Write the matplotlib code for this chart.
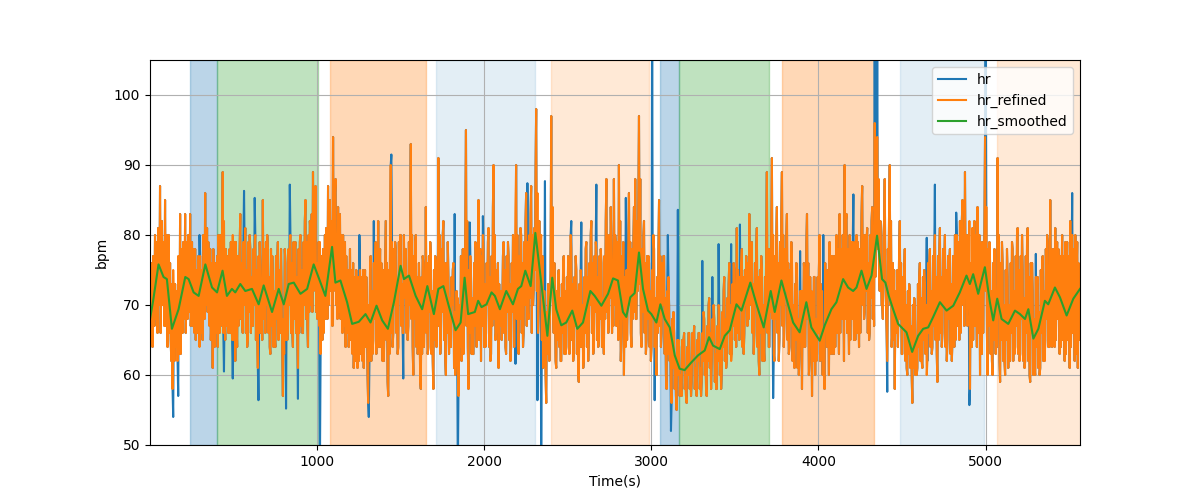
import numpy as np
import matplotlib
matplotlib.use('Agg')
import matplotlib.pyplot as pl

# refined heart rate, one sample every 3.75 s starting at t=2 s.
# Each 15 s block holds four samples: a (t), c (t+3.75), b (t+7.5), d (t+11.25)
refined_t0 = 2
refined_step = 3.75
hr_refined_a = [
    72, 64, 80, 66, 87, 70, 85, 64, 76, 58, 73, 62, 83, 66, 83, 68, 83, 67, 78, 66,
    77, 65, 86, 69, 78, 61, 76, 64, 80, 89, 65, 77, 66, 80, 62, 77, 83, 66, 81, 65,
    78, 67, 80, 61, 75, 85, 66, 78, 63, 74, 64, 79, 66, 57, 76, 67, 80, 64, 79, 61,
    80, 66, 85, 64, 80, 89, 87, 70, 63, 78, 68, 87, 72, 94, 88, 84, 68, 80, 64, 75,
    65, 76, 62, 74, 63, 75, 64, 56, 77, 65, 79, 82, 64, 75, 82, 57, 90, 66, 78, 64,
    80, 66, 78, 67, 93, 60, 80, 65, 58, 76, 84, 64, 77, 58, 76, 91, 65, 82, 60, 74,
    64, 76, 62, 57, 77, 63, 95, 58, 74, 63, 78, 85, 62, 78, 66, 81, 63, 90, 66, 61,
    72, 79, 63, 77, 64, 78, 90, 63, 80, 66, 86, 68, 87, 72, 98, 70, 80, 62, 56, 70,
    97, 66, 61, 75, 62, 77, 64, 72, 78, 63, 75, 59, 73, 62, 79, 66, 82, 64, 78, 65,
    76, 63, 88, 68, 78, 88, 67, 90, 66, 60, 75, 86, 64, 84, 68, 97, 64, 82, 65, 76,
    64, 78, 60, 85, 66, 77, 58, 70, 56, 66, 55, 64, 57, 66, 56, 66, 59, 67, 57, 66,
    59, 68, 57, 71, 62, 68, 58, 69, 60, 74, 62, 76, 63, 75, 81, 65, 78, 66, 70, 83,
    79, 66, 81, 60, 75, 62, 89, 64, 91, 62, 84, 65, 89, 68, 83, 64, 76, 61, 74, 63,
    58, 74, 83, 62, 57, 74, 63, 80, 72, 58, 64, 79, 63, 77, 66, 83, 68, 90, 66, 80,
    68, 79, 66, 78, 87, 69, 81, 66, 84, 96, 94, 72, 70, 88, 62, 90, 66, 58, 75, 82,
    63, 78, 60, 72, 56, 70, 61, 76, 61, 73, 62, 78, 64, 80, 59, 81, 66, 80, 65, 78,
    65, 80, 67, 82, 85, 89, 67, 58, 81, 67, 84, 60, 79, 94, 60, 76, 60, 72, 91, 59,
    76, 60, 74, 62, 78, 64, 81, 63, 75, 62, 81, 59, 72, 60, 74, 61, 77, 65, 79, 85,
    66, 81, 68, 77, 65, 79, 65, 82, 66, 80, 61, 74,
]
hr_refined_c = [
    65, 77, 68, 81, 66, 79, 67, 78, 65, 75, 64, 77, 63, 79, 66, 80, 67, 78, 65, 77,
    66, 80, 70, 79, 65, 78, 66, 80, 67, 66, 78, 66, 79, 65, 79, 67, 68, 79, 66, 79,
    66, 78, 65, 77, 66, 68, 79, 66, 78, 64, 77, 65, 78, 68, 65, 78, 66, 79, 66, 78,
    67, 79, 68, 80, 70, 72, 69, 79, 77, 66, 81, 70, 79, 72, 70, 69, 80, 67, 77, 64,
    75, 61, 75, 62, 74, 61, 74, 70, 62, 76, 63, 64, 76, 62, 65, 75, 66, 78, 66, 79,
    67, 80, 66, 79, 68, 77, 64, 76, 74, 64, 66, 77, 63, 75, 64, 67, 78, 65, 76, 63,
    74, 61, 72, 68, 62, 78, 67, 75, 63, 76, 64, 65, 77, 64, 76, 64, 77, 68, 75, 73,
    65, 66, 77, 65, 76, 64, 68, 77, 66, 79, 67, 80, 66, 81, 72, 82, 65, 72, 69, 62,
    72, 76, 72, 64, 73, 63, 74, 63, 65, 74, 63, 73, 64, 74, 64, 76, 66, 77, 65, 77,
    64, 77, 69, 80, 66, 70, 79, 68, 77, 74, 65, 70, 78, 69, 82, 73, 78, 66, 77, 64,
    75, 64, 74, 67, 76, 63, 72, 62, 68, 58, 65, 57, 65, 58, 64, 58, 66, 58, 65, 58,
    66, 60, 67, 61, 68, 59, 67, 60, 69, 62, 71, 63, 73, 65, 66, 74, 64, 75, 67, 70,
    66, 76, 64, 75, 62, 74, 66, 78, 68, 77, 66, 79, 67, 78, 65, 75, 62, 73, 61, 72,
    72, 64, 68, 74, 71, 60, 74, 62, 60, 76, 75, 63, 77, 64, 78, 66, 80, 68, 78, 65,
    79, 65, 79, 66, 70, 80, 66, 80, 68, 74, 78, 82, 68, 74, 78, 70, 76, 72, 64, 68,
    74, 62, 72, 61, 70, 60, 73, 62, 74, 63, 76, 64, 77, 65, 77, 66, 78, 64, 77, 63,
    77, 65, 79, 66, 70, 72, 80, 76, 65, 80, 66, 79, 66, 72, 78, 63, 76, 63, 70, 76,
    62, 75, 61, 76, 62, 77, 63, 77, 62, 77, 62, 76, 60, 74, 61, 75, 62, 78, 64, 66,
    78, 65, 78, 64, 77, 63, 77, 64, 78, 63, 76,
]
hr_refined_b = [
    68, 74, 71, 79, 73, 77, 71, 80, 62, 70, 66, 75, 70, 78, 71, 76, 70, 75, 69, 74,
    70, 79, 72, 76, 68, 74, 70, 78, 71, 82, 70, 75, 69, 77, 68, 74, 76, 70, 75, 69,
    74, 70, 75, 66, 73, 78, 70, 74, 67, 72, 68, 75, 70, 63, 72, 70, 76, 68, 74, 66,
    75, 70, 79, 69, 83, 80, 76, 67, 73, 72, 80, 76, 82, 78, 79, 73, 76, 70, 72, 68,
    70, 66, 70, 66, 71, 68, 70, 62, 72, 68, 74, 72, 70, 69, 76, 63, 79, 70, 73, 72,
    73, 71, 74, 70, 80, 68, 74, 69, 63, 72, 76, 69, 72, 65, 71, 80, 69, 76, 66, 71,
    70, 69, 64, 70, 68, 72, 82, 66, 71, 67, 73, 77, 67, 73, 70, 74, 67, 80, 69, 67,
    70, 75, 69, 73, 69, 74, 80, 68, 76, 70, 79, 71, 80, 75, 86, 74, 77, 66, 63, 68,
    84, 70, 65, 71, 66, 72, 68, 70, 73, 67, 72, 64, 70, 66, 74, 70, 76, 69, 74, 68,
    71, 68, 80, 71, 74, 80, 71, 82, 68, 67, 72, 79, 68, 88, 72, 88, 69, 76, 68, 72,
    68, 71, 66, 77, 70, 71, 63, 66, 61, 62, 60, 60, 61, 60, 60, 62, 63, 61, 62, 61,
    62, 64, 62, 66, 65, 63, 62, 65, 64, 68, 66, 70, 67, 71, 75, 70, 74, 70, 76, 77,
    73, 70, 74, 66, 70, 67, 78, 69, 80, 68, 76, 70, 80, 72, 76, 67, 70, 65, 68, 67,
    64, 70, 76, 67, 62, 68, 66, 73, 66, 68, 69, 74, 67, 73, 70, 78, 74, 82, 70, 76,
    73, 75, 70, 76, 80, 72, 76, 71, 79, 84, 88, 76, 80, 70, 73, 82, 65, 70, 70, 76,
    67, 70, 63, 67, 61, 65, 64, 71, 65, 70, 66, 72, 67, 74, 65, 74, 70, 75, 68, 73,
    70, 75, 71, 77, 79, 80, 72, 66, 76, 72, 77, 66, 75, 84, 67, 72, 65, 70, 80, 65,
    70, 65, 70, 66, 72, 67, 75, 68, 71, 66, 74, 66, 68, 64, 69, 66, 72, 68, 74, 78,
    71, 75, 72, 73, 70, 74, 70, 75, 72, 74, 67,
]
hr_refined_d = [
    76, 67, 79, 70, 82, 67, 80, 66, 73, 62, 72, 63, 78, 68, 79, 69, 79, 66, 75, 64,
    75, 68, 81, 67, 76, 64, 77, 66, 80, 70, 67, 78, 65, 79, 64, 78, 67, 77, 64, 80,
    68, 79, 66, 79, 65, 76, 80, 64, 77, 65, 76, 67, 63, 78, 65, 79, 66, 78, 65, 79,
    66, 82, 67, 82, 69, 78, 68, 79, 65, 80, 68, 85, 67, 86, 68, 83, 66, 79, 66, 78,
    63, 74, 61, 75, 62, 75, 60, 75, 63, 76, 64, 78, 62, 77, 59, 80, 64, 79, 63, 80,
    66, 78, 65, 82, 64, 79, 63, 59, 77, 67, 63, 79, 62, 77, 68, 63, 80, 62, 79, 66,
    75, 60, 71, 64, 78, 82, 64, 77, 63, 79, 66, 78, 80, 64, 79, 62, 84, 65, 76, 68,
    77, 64, 79, 62, 80, 84, 66, 81, 64, 82, 69, 83, 70, 89, 66, 78, 61, 60, 73, 75,
    69, 62, 74, 62, 76, 63, 77, 80, 62, 77, 60, 75, 61, 78, 62, 80, 63, 79, 64, 78,
    66, 82, 66, 84, 67, 79, 65, 62, 79, 64, 80, 66, 79, 68, 84, 66, 80, 63, 77, 62,
    80, 62, 78, 64, 77, 60, 74, 58, 69, 57, 65, 58, 65, 57, 66, 57, 65, 59, 66, 57,
    69, 58, 70, 58, 70, 58, 70, 58, 72, 61, 73, 62, 76, 64, 72, 76, 63, 77, 68, 74,
    63, 78, 62, 77, 64, 80, 64, 82, 63, 80, 62, 83, 64, 80, 63, 79, 64, 76, 60, 72,
    76, 79, 60, 72, 74, 62, 75, 66, 61, 74, 60, 77, 63, 80, 63, 78, 62, 83, 63, 79,
    65, 80, 64, 83, 68, 79, 65, 82, 67, 79, 74, 70, 82, 66, 84, 64, 75, 66, 78, 63,
    75, 61, 73, 60, 71, 60, 74, 62, 75, 60, 76, 63, 78, 63, 78, 64, 76, 62, 76, 62,
    64, 80, 65, 82, 67, 69, 82, 64, 82, 64, 80, 63, 81, 66, 79, 62, 78, 64, 62, 79,
    62, 78, 62, 79, 63, 80, 62, 80, 61, 79, 60, 76, 61, 73, 60, 76, 62, 80, 64, 64,
    64, 79, 63, 80, 62, 79, 61, 80, 62, 79, 65,
]

# raw hr differs from the refined one only at these outliers
spike_t = [139, 169, 298, 444, 498, 564, 627, 651, 817, 837, 887, 1020, 1255, 1311,
           1339, 1445, 1518, 1824, 1844, 1914, 1994, 2189, 2259, 2319, 2343, 2363,
           2522, 2582, 2672, 2847, 3006, 3020, 3100, 3120, 3160, 3306, 3365, 3405,
           3479, 3529, 3729, 3889, 4028, 4208, 4337, 4352, 4413, 4647, 4697, 4826,
           4902, 5000, 5300, 5519, 5535]
spike_hr = [54, 57, 80, 60.5, 59.5, 86.3, 85.3, 56.4, 55.2, 87.2, 56.6, 46, 80, 54,
            82, 91.5, 59.5, 83, 46, 81.8, 82.7, 61.6, 87.4, 56.4, 46, 87.7,
            82, 81.8, 87.2, 85.3, 112, 56.4, 80, 52, 83.6, 76.3, 74, 78.7,
            78.7, 81.5, 56.7, 77.7, 80, 85.8, 112, 112, 57.6, 79.6, 87.2, 83.2,
            55.7, 112, 77.3, 86, 62]

smooth_t = [2, 20, 53, 83, 103, 133, 173, 213, 233, 263, 293, 333, 373, 403, 436, 462,
            492, 512, 542, 572, 612, 652, 682, 732, 772, 802, 832, 862, 902, 942, 981,
            1011, 1051, 1091, 1111, 1141, 1181, 1211, 1251, 1291, 1321, 1357, 1391,
            1425, 1461, 1501, 1521, 1551, 1591, 1630, 1661, 1700, 1727, 1757, 1791,
            1830, 1860, 1884, 1905, 1945, 1965, 1985, 2015, 2045, 2065, 2095, 2133,
            2173, 2203, 2223, 2247, 2279, 2307, 2333, 2379, 2408, 2432, 2462, 2492,
            2528, 2558, 2592, 2636, 2662, 2702, 2742, 2772, 2801, 2831, 2851, 2875,
            2901, 2927, 2951, 2981, 3001, 3031, 3055, 3081, 3111, 3141, 3170, 3200,
            3240, 3280, 3320, 3346, 3370, 3410, 3440, 3470, 3510, 3540, 3593, 3630,
            3673, 3715, 3739, 3779, 3809, 3849, 3888, 3928, 3958, 4008, 4038, 4078,
            4108, 4148, 4178, 4208, 4228, 4258, 4288, 4318, 4351, 4381, 4401, 4421,
            4447, 4477, 4527, 4561, 4597, 4627, 4657, 4687, 4727, 4767, 4807, 4846,
            4886, 4906, 4926, 4956, 4996, 5026, 5046, 5070, 5096, 5136, 5176, 5206,
            5236, 5256, 5286, 5316, 5355, 5375, 5415, 5445, 5485, 5525, 5565]
hr_smoothed = [68, 70.5, 75.8, 74, 73.7, 66.6, 69.4, 74, 73.7, 71.8, 71.3, 75.8, 72.5,
               71.8, 74.9, 71.3, 72.3, 71.8, 73, 72, 72.3, 70.1, 72.8, 69, 72.3, 70.1,
               73, 73.2, 71.6, 72.3, 75.8, 73.9, 71.3, 78.3, 73.2, 73.5, 70.4, 67.3,
               67.6, 68.7, 67.5, 69.9, 67.8, 66.6, 70.4, 75.6, 73.7, 74.2, 71.3, 69.4,
               72.7, 68.7, 72.3, 72.7, 69.7, 66.4, 67.5, 73.9, 68.7, 69, 70.6, 69.7,
               70.1, 71.8, 71.3, 69.4, 72, 70.1, 72.3, 72.7, 74.9, 72.7, 80.3, 75.1,
               65.6, 73.9, 69.4, 67.1, 67.5, 69.2, 66.6, 67.5, 72, 71.3, 69.9, 71.6,
               73.8, 73.5, 69, 68.3, 71.1, 71.7, 77.5, 72.3, 69.2, 68.7, 67.5, 70.1,
               68, 66.8, 62.8, 60.9, 60.7, 61.8, 62.8, 63.5, 65.4, 64.2, 63.7, 65.6,
               66.4, 70.1, 69.2, 73.2, 70.1, 66.8, 72, 69, 73.5, 70.9, 67.5, 66.1,
               70.4, 66.8, 64.9, 67.1, 69.4, 70.4, 73.7, 72.5, 72, 72.5, 74.9, 72.3,
               74.2, 79.9, 73.7, 73.2, 71.3, 69.4, 67.3, 66.1, 63.3, 65.6, 66.6, 66.8,
               68.3, 70.4, 69.2, 69.9, 71.8, 74.2, 73, 74.4, 71.6, 75.4, 70.4, 67.8,
               70.9, 68, 67.3, 69.2, 68.7, 68, 69.4, 65.2, 66.6, 70.6, 70.1, 72.5,
               71.1, 68.5, 70.9, 72.3]

# activity segments (start, end, colour, alpha)
seg_start = [239, 404, 1076, 1714, 2403, 3051, 3166, 3783, 4487, 5066]
seg_end = [404, 1006, 1650, 2303, 2988, 3166, 3707, 4331, 4990, 5600]
seg_color = ['C0', 'C2', 'C1', 'C0', 'C1', 'C0', 'C2', 'C1', 'C0', 'C1']
seg_alpha = [0.3, 0.3, 0.3, 0.12, 0.17, 0.3, 0.3, 0.3, 0.12, 0.17]

# interleave the four sample lists into one series
refined = np.empty(len(hr_refined_a) + len(hr_refined_c) + len(hr_refined_b) + len(hr_refined_d))
refined[0::4] = hr_refined_a
refined[1::4] = hr_refined_c
refined[2::4] = hr_refined_b
refined[3::4] = hr_refined_d
t = refined_t0 + refined_step * np.arange(len(refined))
hr = refined.copy()
for st, v in zip(spike_t, spike_hr):
    hr[np.argmin(np.abs(t - st))] = v

fig = pl.figure(figsize=(12, 5), dpi=100)
ax = fig.add_subplot(111)
ax.plot(t, hr, label='hr')
ax.plot(t, refined, label='hr_refined')
ax.plot(smooth_t, hr_smoothed, label='hr_smoothed')
for s, e, c, a in zip(seg_start, seg_end, seg_color, seg_alpha):
    ax.axvspan(s, e, color=c, alpha=a)
ax.set_xlim(2, 5565)
ax.set_ylim(50, 105)
ax.grid(True)
ax.set_xlabel('Time(s)')
ax.set_ylabel('bpm')
ax.legend(loc='upper right')
fig.savefig('out.png')
